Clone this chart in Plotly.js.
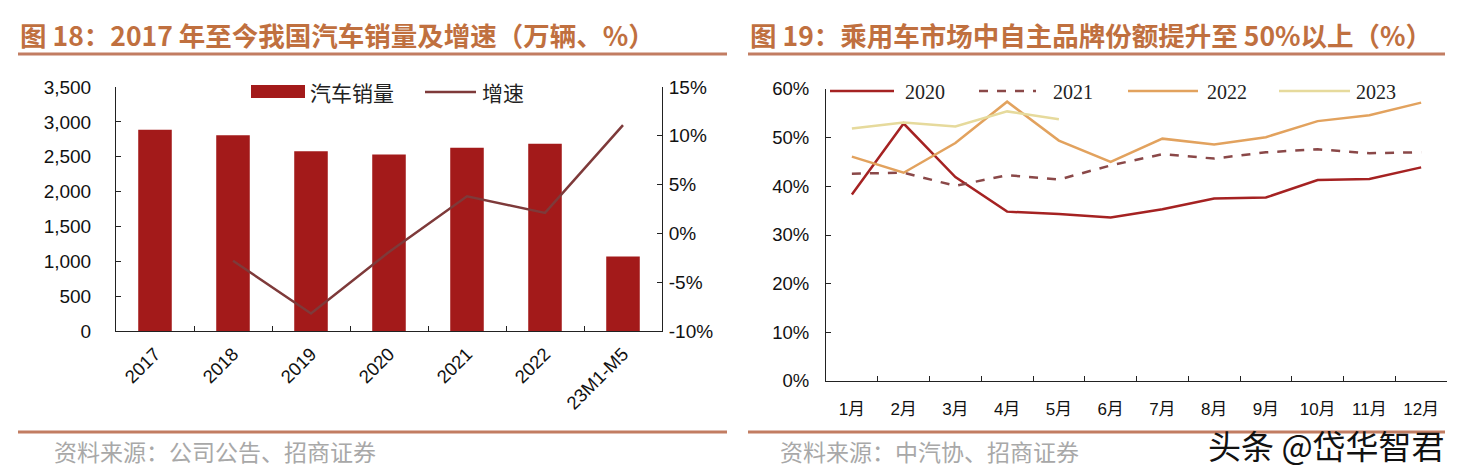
<!DOCTYPE html>
<html><head><meta charset="utf-8">
<script src="https://cdn.plot.ly/plotly-3.0.1.min.js"></script>
<style>body{margin:0;background:#fff}#chart{width:1461px;height:473px}</style>
</head><body><div id="chart"></div>
<script>
// ---- Data ----
const years = ['2017', '2018', '2019', '2020', '2021', '2022', '23M1-M5'];
const sales = [2888, 2808, 2577, 2531, 2627, 2686, 1069];          // 万辆
const growth = [null, -2.8, -8.2, -1.9, 3.8, 2.1, 11.1];            // %
const growthTickVals = [-10, -5, 0, 5, 10, 15];
const growthTickText = ['-10%', '-5%', '0%', '5%', '10%', '15%'];
const months = ['1月','2月','3月','4月','5月','6月','7月','8月','9月','10月','11月','12月'];
const share2020 = [38.3, 52.9, 41.9, 34.8, 34.3, 33.6, 35.3, 37.5, 37.7, 41.3, 41.5, 43.9];
const share2021 = [42.6, 42.8, 40.1, 42.3, 41.4, 44.3, 46.6, 45.7, 47.0, 47.6, 46.8, 47.0];
const share2022 = [46.1, 42.8, 48.9, 57.4, 49.4, 45.0, 49.8, 48.6, 50.1, 53.4, 54.6, 57.2];
const share2023 = [51.9, 53.1, 52.3, 55.4, 53.8];
const leftTitle = '图 18：2017 年至今我国汽车销量及增速（万辆、%）';
const rightTitle = '图 19：乘用车市场中自主品牌份额提升至 50%以上（%）';
const leftSource = '资料来源：公司公告、招商证券';
const rightSource = '资料来源：中汽协、招商证券';

// ---- Helpers (pixel -> paper) ----
const W = 1461, H = 473;
const px = x => x / W;
const py = y => 1 - y / H;

const barColor = '#A31A1A';
const growthColor = '#7E3A3A';
const c2020 = '#A52222', c2021 = '#8A4848', c2022 = '#E2A25E', c2023 = '#E6DA9C';
const titleColor = '#C0703F';
const ruleColor = '#C27D62';
const sans = 'Arial, "Liberation Sans", "Noto Sans CJK SC", sans-serif';
const cjk = '"Noto Sans CJK SC", sans-serif';
const serif = '"Liberation Serif", "Times New Roman", serif';

const traces = [
  {type:'bar', x: years, y: sales, name:'汽车销量', marker:{color: barColor}, xaxis:'x', yaxis:'y', showlegend:false},
  {type:'scatter', mode:'lines', x: years, y: growth, name:'增速', line:{color: growthColor, width:2.5}, xaxis:'x', yaxis:'y2', showlegend:false},
  {type:'scatter', mode:'lines', x: months, y: share2020, name:'2020', line:{color: c2020, width:2.5}, xaxis:'x2', yaxis:'y3', showlegend:false},
  {type:'scatter', mode:'lines', x: months, y: share2021, name:'2021', line:{color: c2021, width:2.5, dash:'dash'}, xaxis:'x2', yaxis:'y3', showlegend:false},
  {type:'scatter', mode:'lines', x: months, y: share2022, name:'2022', line:{color: c2022, width:2.5}, xaxis:'x2', yaxis:'y3', showlegend:false},
  {type:'scatter', mode:'lines', x: months.slice(0, share2023.length), y: share2023, name:'2023', line:{color: c2023, width:2.5}, xaxis:'x2', yaxis:'y3', showlegend:false}
];

const axisCommon = {showline:true, linecolor:'#222', linewidth:1, showgrid:false, zeroline:false,
  ticks:'inside', ticklen:5, tickcolor:'#222', fixedrange:true};

const layout = {
  width: W, height: H,
  margin:{l:0, r:0, t:0, b:0},
  paper_bgcolor:'#fff', plot_bgcolor:'rgba(0,0,0,0)',
  bargap: 0.57,
  font:{family: sans, color:'#111'},
  xaxis: Object.assign({}, axisCommon, {domain:[px(116), px(662)], anchor:'y', type:'category',
    range:[-0.5, 6.5], tickson:'boundaries', tickangle:-45, tickfont:{size:18.5, family:sans}, ticklabelstandoff:4}),
  yaxis: Object.assign({}, axisCommon, {domain:[py(331), py(87)], anchor:'x', range:[0, 3500], dtick:500,
    tickformat:',d', tickfont:{size:19, family:sans}, ticklabelstandoff:20}),
  yaxis2: Object.assign({}, axisCommon, {overlaying:'y', side:'right', anchor:'x', range:[-10, 15],
    tickmode:'array', tickvals:growthTickVals, ticktext:growthTickText,
    tickfont:{size:19, family:sans}, ticklabelstandoff:2}),
  xaxis2: Object.assign({}, axisCommon, {domain:[px(826), px(1447)], anchor:'y3', type:'category',
    range:[-0.5, 11.5], tickson:'boundaries', tickfont:{size:17, family:sans}, ticklabelstandoff:13}),
  yaxis3: Object.assign({}, axisCommon, {domain:[py(381), py(89)], anchor:'x2', range:[0, 60], dtick:10,
    ticksuffix:'%', tickfont:{size:18.5, family:sans}, ticklabelstandoff:12}),
  shapes: [
    {type:'line', xref:'paper', yref:'paper', x0:px(18), x1:px(727), y0:py(54), y1:py(54), line:{color:ruleColor, width:3}},
    {type:'line', xref:'paper', yref:'paper', x0:px(748), x1:px(1445), y0:py(54), y1:py(54), line:{color:ruleColor, width:3}},
    {type:'line', xref:'paper', yref:'paper', x0:px(18), x1:px(727), y0:py(432), y1:py(432), line:{color:ruleColor, width:3}},
    {type:'line', xref:'paper', yref:'paper', x0:px(748), x1:px(1445), y0:py(432), y1:py(432), line:{color:ruleColor, width:3}},
    // left legend
    {type:'rect', xref:'paper', yref:'paper', x0:px(251), x1:px(305), y0:py(98), y1:py(85), fillcolor:barColor, line:{width:0}},
    {type:'line', xref:'paper', yref:'paper', x0:px(425), x1:px(476), y0:py(92), y1:py(92), line:{color:growthColor, width:2.5}},
    // right legend
    {type:'line', xref:'paper', yref:'paper', x0:px(830), x1:px(894), y0:py(91), y1:py(91), line:{color:c2020, width:2.5}},
    {type:'line', xref:'paper', yref:'paper', x0:px(979), x1:px(1036), y0:py(91), y1:py(91), line:{color:c2021, width:2.5, dash:'dash'}},
    {type:'line', xref:'paper', yref:'paper', x0:px(1128), x1:px(1198), y0:py(91), y1:py(91), line:{color:c2022, width:2.5}},
    {type:'line', xref:'paper', yref:'paper', x0:px(1279), x1:px(1350), y0:py(91), y1:py(91), line:{color:c2023, width:2.5}}
  ],
  annotations: [
    {xref:'paper', yref:'paper', x:px(18), y:py(35), xanchor:'left', yanchor:'middle', showarrow:false,
      text:'<b>'+leftTitle+'</b>', font:{size:26.5, color:titleColor, family:cjk}},
    {xref:'paper', yref:'paper', x:px(748), y:py(35), xanchor:'left', yanchor:'middle', showarrow:false,
      text:'<b>'+rightTitle+'</b>', font:{size:26.5, color:titleColor, family:cjk}},
    {xref:'paper', yref:'paper', x:px(52), y:py(451), xanchor:'left', yanchor:'middle', showarrow:false,
      text:leftSource, font:{size:23, color:'#A8A8A8', family:cjk}},
    {xref:'paper', yref:'paper', x:px(778), y:py(451), xanchor:'left', yanchor:'middle', showarrow:false,
      text:rightSource, font:{size:23, color:'#A8A8A8', family:cjk}},
    {xref:'paper', yref:'paper', x:px(308), y:py(92), xanchor:'left', yanchor:'middle', showarrow:false,
      text:'汽车销量', font:{size:21, color:'#222', family:cjk}},
    {xref:'paper', yref:'paper', x:px(480), y:py(92), xanchor:'left', yanchor:'middle', showarrow:false,
      text:'增速', font:{size:21, color:'#222', family:cjk}},
    {xref:'paper', yref:'paper', x:px(903), y:py(92), xanchor:'left', yanchor:'middle', showarrow:false,
      text:'2020', font:{size:20, color:'#222', family:serif}},
    {xref:'paper', yref:'paper', x:px(1051), y:py(92), xanchor:'left', yanchor:'middle', showarrow:false,
      text:'2021', font:{size:20, color:'#222', family:serif}},
    {xref:'paper', yref:'paper', x:px(1205), y:py(92), xanchor:'left', yanchor:'middle', showarrow:false,
      text:'2022', font:{size:20, color:'#222', family:serif}},
    {xref:'paper', yref:'paper', x:px(1354), y:py(92), xanchor:'left', yanchor:'middle', showarrow:false,
      text:'2023', font:{size:20, color:'#222', family:serif}},
    {xref:'paper', yref:'paper', x:px(1447), y:py(445), xanchor:'right', yanchor:'middle', showarrow:false,
      text:'头条 @岱华智君', font:{size:33, color:'#111', family:cjk}}
  ]
};

Plotly.newPlot('chart', traces, layout, {displayModeBar:false, staticPlot:true});
</script>
</body></html>
